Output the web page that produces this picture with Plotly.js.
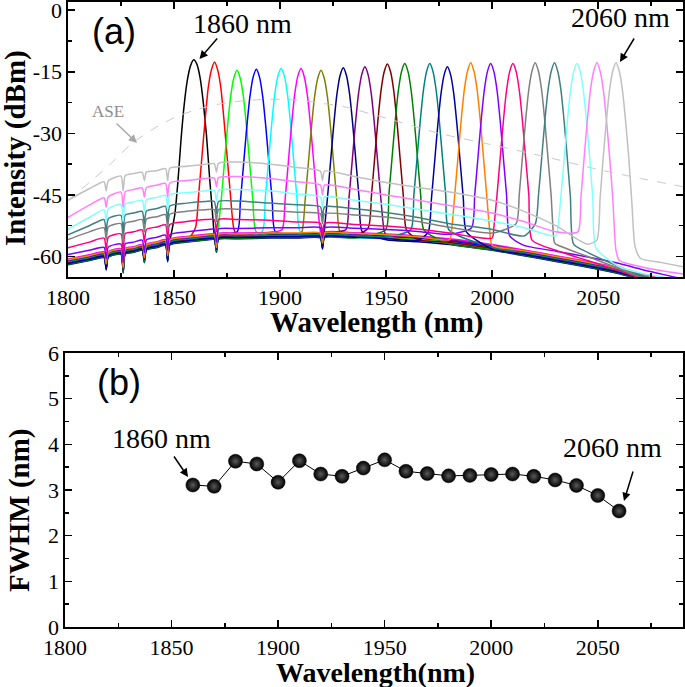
<!DOCTYPE html>
<html>
<head>
<meta charset="utf-8">
<script src="https://cdn.plot.ly/plotly-3.0.1.min.js"></script>
<style>html,body{margin:0;padding:0;background:#fff}#chart{width:685px;height:687px}</style>
</head>
<body>
<div id="chart"></div>
<script>
// ---------- Panel (a) data ----------
const lineNames = ['1860','1870','1880','1890','1900','1910','1920','1930','1940','1950','1960','1970','1980','1990','2000','2010','2020','2030','2040','2050','2060'];
const lineCenters = [1859.3,1869.1,1879.7,1888.8,1900.5,1909.9,1919.3,1929.8,1940.0,1950.6,1958.8,1970.6,1978.9,1989.9,1999.3,2009.8,2020.3,2029.4,2040.0,2049.4,2058.4];
const lineColors = ['#000000','#ff0000','#00ff00','#0000ff','#00ffff','#ff00ff','#808000','#000080','#800080','#800000','#008000','#008080','#0000a0','#ff8000','#8000ff','#ff0080','#808080','#408080','#80ffff','#ff80ff','#c0c0c0'];

// noise-floor wavelengths (nm) shared by the floor arrays (incl. absorption dips)
const floorWl = [1800,1810,1817,1818,1819,1825,1826,1827,1831,1835,1836,1837,1842,1846,1847,1848,1856,1865,1869,1870,1871,1880,1895,1908,1919,1920,1921,1935,1950,1965,1980,2000,2015,2030,2045,2060,2070,2080,2090];

const floor1860 = [-61.2,-60.2,-59.5,-62.5,-59.4,-58.7,-63.0,-58.6,-58.2,-57.7,-60.5,-57.6,-57.0,-56.5,-60.5,-56.4,-55.7,-55.2,-55.1,-58.5,-55.0,-54.9,-54.7,-54.7,-54.7,-57.0,-54.7,-54.8,-55.1,-55.6,-56.3,-57.7,-59.0,-60.4,-61.8,-63.4,-64.8,-66.0,-67.2];
const floor1870 = [-61.7,-60.7,-60.0,-62.8,-59.9,-59.2,-63.7,-59.1,-58.7,-58.2,-61.2,-58.1,-57.5,-57.0,-60.8,-56.9,-56.2,-55.7,-55.6,-58.7,-55.5,-55.4,-55.2,-55.2,-55.2,-57.7,-55.2,-55.3,-55.6,-56.1,-56.8,-58.2,-59.5,-60.9,-62.3,-63.9,-65.3,-66.5,-67.7];
const floor1880 = [-61.4,-60.4,-59.7,-62.4,-59.6,-58.9,-63.4,-58.8,-58.4,-57.9,-60.9,-57.8,-57.2,-56.7,-60.4,-56.6,-55.9,-55.4,-55.3,-58.4,-55.2,-55.1,-54.9,-54.9,-54.9,-57.4,-54.9,-55.0,-55.3,-55.8,-56.5,-57.9,-59.2,-60.6,-62.0,-63.6,-65.0,-66.2,-67.4];
const floor1890 = [-61.1,-60.1,-59.4,-62.1,-59.3,-58.6,-63.1,-58.5,-58.1,-57.6,-60.6,-57.5,-56.9,-56.4,-60.1,-56.3,-55.6,-55.1,-55.0,-58.1,-54.9,-54.8,-54.6,-54.6,-54.6,-57.1,-54.6,-54.7,-55.0,-55.5,-56.2,-57.6,-58.9,-60.3,-61.7,-63.3,-64.7,-65.9,-67.1];
const floor1900 = [-61.8,-60.8,-60.1,-62.8,-60.0,-59.3,-63.8,-59.2,-58.8,-58.3,-61.3,-58.2,-57.6,-57.1,-60.8,-57.0,-56.3,-55.8,-55.7,-58.8,-55.6,-55.5,-55.3,-55.3,-55.3,-57.8,-55.3,-55.4,-55.7,-56.2,-56.9,-58.3,-59.6,-61.0,-62.4,-64.0,-65.4,-66.6,-67.8];
const floor1910 = [-60.6,-59.6,-58.9,-61.6,-58.8,-58.1,-62.6,-58.0,-57.6,-57.1,-60.1,-57.0,-56.4,-55.9,-59.6,-55.8,-55.1,-54.6,-54.5,-57.6,-54.4,-54.3,-54.1,-54.1,-54.1,-56.6,-54.1,-54.2,-54.5,-55.0,-55.7,-57.1,-58.4,-59.8,-61.2,-62.8,-64.2,-65.4,-66.6];
const floor1920 = [-61.6,-60.6,-59.9,-62.6,-59.8,-59.1,-63.6,-59.0,-58.6,-58.1,-61.1,-58.0,-57.4,-56.9,-60.6,-56.8,-56.1,-55.6,-55.5,-58.6,-55.4,-55.3,-55.1,-55.1,-55.1,-57.6,-55.1,-55.2,-55.5,-56.0,-56.7,-58.1,-59.4,-60.8,-62.2,-63.8,-65.2,-66.4,-67.6];
const floor1930 = [-62.0,-61.0,-60.3,-63.0,-60.2,-59.5,-64.0,-59.4,-59.0,-58.5,-61.5,-58.4,-57.8,-57.3,-61.0,-57.2,-56.5,-56.0,-55.9,-59.0,-55.8,-55.7,-55.5,-55.5,-55.5,-58.0,-55.5,-55.6,-55.9,-56.4,-57.1,-58.5,-59.8,-61.2,-62.6,-64.2,-65.6,-66.8,-68.0];
const floor1940 = [-60.9,-59.9,-59.2,-61.9,-59.1,-58.4,-62.9,-58.3,-57.9,-57.4,-60.4,-57.3,-56.7,-56.2,-59.9,-56.1,-55.4,-54.9,-54.8,-57.9,-54.7,-54.6,-54.4,-54.4,-54.4,-56.9,-54.4,-54.5,-54.8,-55.3,-56.0,-57.4,-58.7,-60.1,-61.5,-63.1,-64.5,-65.7,-66.9];
const floor1950 = [-61.5,-60.5,-59.8,-62.5,-59.7,-59.0,-63.5,-58.9,-58.5,-58.0,-61.0,-57.9,-57.3,-56.8,-60.5,-56.7,-56.0,-55.5,-55.4,-58.5,-55.3,-55.2,-55.0,-55.0,-55.0,-57.5,-55.0,-55.1,-55.4,-55.9,-56.6,-58.0,-59.3,-60.7,-62.1,-63.7,-65.1,-66.3,-67.5];
const floor1960 = [-61.9,-60.9,-60.2,-62.9,-60.1,-59.4,-63.9,-59.3,-58.9,-58.4,-61.4,-58.3,-57.7,-57.2,-60.9,-57.1,-56.4,-55.9,-55.8,-58.9,-55.7,-55.6,-55.4,-55.4,-55.4,-57.9,-55.4,-55.5,-55.8,-56.3,-57.0,-58.4,-59.7,-61.1,-62.5,-64.1,-65.5,-66.7,-67.9];
const floor1970 = [-61.3,-60.3,-59.6,-62.3,-59.5,-58.8,-63.3,-58.7,-58.3,-57.8,-60.8,-57.7,-57.1,-56.6,-60.3,-56.5,-55.8,-55.3,-55.2,-58.3,-55.1,-55.0,-54.8,-54.8,-54.8,-57.3,-54.8,-54.9,-55.2,-55.7,-56.4,-57.8,-59.1,-60.5,-61.9,-63.5,-64.9,-66.1,-67.3];
const floor1980 = [-61.7,-60.7,-60.0,-63.3,-59.9,-59.2,-63.2,-59.1,-58.7,-58.2,-60.7,-58.1,-57.5,-57.0,-61.3,-56.9,-56.2,-55.7,-55.6,-58.2,-55.5,-55.4,-55.2,-55.2,-55.2,-58.2,-55.2,-55.3,-55.6,-56.1,-56.8,-58.2,-59.5,-60.9,-62.3,-63.9,-65.3,-66.5,-67.7];
const floor1990 = [-60.8,-59.8,-59.1,-61.8,-59.0,-58.3,-62.8,-58.2,-57.8,-57.3,-60.3,-57.2,-56.6,-56.1,-59.8,-56.0,-55.3,-54.8,-54.7,-57.8,-54.6,-54.5,-54.3,-54.3,-54.3,-56.8,-54.3,-54.4,-54.7,-55.2,-55.9,-57.3,-58.6,-60.0,-61.4,-63.0,-64.4,-65.6,-66.8];
const floor2000 = [-59.5,-58.5,-57.8,-60.5,-57.7,-57.0,-61.5,-56.9,-56.5,-56.0,-59.0,-55.9,-55.3,-54.8,-58.5,-54.7,-54.0,-53.5,-53.4,-56.5,-53.3,-53.2,-53.0,-53.0,-53.0,-55.5,-53.0,-53.1,-53.4,-53.9,-54.6,-56.0,-57.3,-58.7,-60.1,-61.7,-63.1,-64.3,-65.5];
const floor2010 = [-57.9,-56.5,-55.5,-58.5,-55.3,-54.5,-59.0,-54.4,-54.0,-53.5,-56.5,-53.4,-52.8,-52.3,-56.0,-52.2,-51.5,-51.0,-51.0,-54.0,-51.0,-51.0,-51.2,-51.6,-51.9,-54.5,-51.9,-52.2,-52.6,-53.3,-54.3,-55.5,-57.0,-58.5,-61.0,-63.5,-65.3,-66.8,-68.0];
const floor2020 = [-55.9,-54.0,-53.0,-56.0,-52.8,-52.0,-56.5,-51.9,-51.4,-51.0,-54.0,-50.9,-50.3,-49.8,-53.5,-49.7,-49.0,-48.6,-48.6,-51.5,-48.6,-48.5,-48.8,-49.2,-49.6,-52.0,-49.6,-49.9,-50.4,-51.5,-52.9,-54.3,-55.5,-57.0,-60.0,-63.0,-65.0,-66.5,-67.5];
const floor2030 = [-54.7,-52.5,-51.0,-54.0,-50.8,-50.0,-54.5,-49.9,-49.4,-49.0,-52.0,-48.9,-48.3,-47.8,-51.5,-47.7,-47.0,-46.6,-46.6,-49.5,-46.6,-46.5,-47.0,-47.4,-47.9,-50.5,-47.9,-48.4,-49.3,-50.5,-52.0,-53.4,-55.0,-56.5,-59.0,-62.5,-64.5,-66.0,-67.0];
const floor2040 = [-53.3,-50.5,-48.6,-51.5,-48.4,-47.3,-51.5,-47.2,-46.7,-46.3,-49.0,-46.2,-45.6,-45.1,-48.5,-45.0,-44.5,-44.0,-43.9,-46.5,-43.8,-43.7,-44.0,-44.8,-45.5,-48.0,-45.5,-46.3,-47.3,-48.5,-49.7,-51.4,-53.0,-55.0,-57.5,-62.5,-64.0,-65.0,-66.0];
const floor2050 = [-50.5,-47.5,-45.7,-48.0,-45.5,-44.3,-48.0,-44.2,-43.7,-43.3,-45.5,-43.2,-42.6,-42.2,-45.5,-42.1,-41.5,-41.0,-40.9,-43.0,-40.8,-40.5,-41.0,-41.8,-42.6,-45.0,-42.6,-43.6,-45.0,-46.3,-47.6,-49.4,-51.5,-54.0,-56.5,-61.0,-62.5,-63.5,-64.3];
const floor2060 = [-46.3,-43.5,-41.8,-44.0,-41.6,-40.4,-44.0,-40.3,-39.8,-39.5,-41.5,-39.4,-39.1,-38.6,-41.5,-38.5,-38.0,-37.5,-37.4,-39.5,-37.3,-37.0,-37.5,-38.3,-39.2,-41.5,-39.2,-40.5,-42.0,-43.2,-44.3,-46.3,-49.0,-52.5,-57.0,-60.0,-60.5,-61.5,-62.5];

// laser-line samples, offsets (nm) from each line centre
const peakOffsets = [-9,-7.5,-6,-4.5,-3,-1.5,0,1.5,3,4.5,6,7.5,9];
const peak1860 = [-50.0,-42.0,-31.5,-23.0,-17.0,-13.5,-12.1,-13.2,-16.5,-22.5,-30.5,-41.0,-50.5];
const peak1870 = [-53.0,-45.0,-36.0,-27.0,-19.0,-14.6,-12.6,-14.6,-19.0,-27.0,-36.0,-45.0,-53.0];
const peak1880 = [-54.0,-46.5,-37.5,-28.5,-21.0,-16.5,-14.6,-16.5,-21.0,-28.5,-37.5,-46.5,-54.0];
const peak1890 = [-54.0,-46.5,-37.5,-28.5,-21.0,-16.3,-14.4,-16.3,-21.0,-28.5,-37.5,-46.5,-54.0];
const peak1900 = [-54.0,-46.0,-37.0,-28.0,-20.5,-16.0,-14.2,-16.0,-20.5,-28.0,-37.0,-46.0,-54.0];
const peak1910 = [-53.5,-46.0,-37.0,-28.0,-20.5,-16.0,-14.2,-16.2,-20.8,-28.3,-37.3,-46.0,-53.5];
const peak1920 = [-54.0,-46.5,-37.5,-28.5,-21.0,-16.5,-14.6,-16.5,-21.0,-28.5,-37.5,-46.5,-54.0];
const peak1930 = [-54.0,-46.0,-37.0,-28.0,-20.5,-15.9,-14.0,-15.9,-20.5,-28.0,-37.0,-46.0,-54.0];
const peak1940 = [-53.5,-45.8,-36.8,-27.8,-20.3,-15.7,-13.8,-15.7,-20.3,-27.8,-36.8,-45.8,-53.5];
const peak1950 = [-53.0,-45.1,-36.1,-27.1,-19.6,-15.0,-13.1,-15.0,-19.6,-27.1,-36.1,-45.1,-53.5];
const peak1960 = [-53.5,-45.0,-36.0,-27.0,-19.5,-14.9,-13.0,-14.9,-19.5,-27.0,-36.0,-45.0,-53.5];
const peak1970 = [-53.5,-45.0,-36.0,-27.0,-19.5,-14.9,-13.0,-14.9,-19.5,-27.0,-36.0,-45.0,-53.5];
const peak1980 = [-54.0,-45.8,-36.8,-27.8,-20.3,-15.7,-13.8,-15.7,-20.3,-27.8,-36.8,-45.8,-54.0];
const peak1990 = [-53.5,-44.8,-35.8,-26.8,-19.3,-14.8,-12.8,-14.8,-19.3,-26.8,-35.8,-44.8,-54.0];
const peak2000 = [-53.0,-45.0,-36.0,-27.0,-19.5,-14.9,-13.0,-14.9,-19.5,-27.0,-36.0,-45.0,-55.0];
const peak2010 = [-53.0,-45.0,-36.0,-27.0,-19.5,-14.9,-13.0,-14.9,-19.5,-27.0,-36.0,-45.0,-56.0];
const peak2020 = [-52.0,-44.8,-35.8,-26.8,-19.3,-14.8,-12.8,-14.8,-19.3,-26.8,-35.8,-45.0,-56.5];
const peak2030 = [-52.0,-44.8,-35.8,-26.8,-19.3,-14.8,-12.8,-14.8,-19.3,-26.8,-35.8,-45.5,-57.0];
const peak2040 = [-53.0,-45.0,-36.0,-27.0,-19.5,-14.9,-13.0,-14.9,-19.5,-27.0,-36.0,-46.0,-58.0];
const peak2050 = [-54.0,-45.5,-35.8,-26.8,-19.3,-14.8,-12.8,-14.8,-19.3,-26.8,-35.8,-46.0,-58.5];
const peak2060 = [-56.0,-46.0,-35.8,-26.8,-19.3,-14.8,-12.8,-14.8,-19.3,-26.8,-35.8,-47.0,-57.6];

// ASE spectrum
const aseWl  = [1800,1810,1820,1830,1840,1850,1860,1870,1880,1890,1900,1910,1920,1930,1950,1975,2000,2025,2050,2070,2090];
const aseDbm = [-46.3,-42.0,-37.5,-32.5,-29.0,-26.2,-24.3,-23.0,-22.2,-21.8,-21.7,-22.0,-22.7,-23.5,-26.3,-30.0,-32.8,-35.7,-38.8,-41.0,-43.0];

// ---------- Panel (b) data ----------
const fwhmWl = [1860,1870,1880,1890,1900,1910,1920,1930,1940,1950,1960,1970,1980,1990,2000,2010,2020,2030,2040,2050,2060];
const fwhmNm = [3.11,3.08,3.63,3.57,3.17,3.64,3.35,3.30,3.48,3.66,3.41,3.36,3.31,3.32,3.34,3.35,3.30,3.22,3.10,2.88,2.54];

const yTickVals = [0,-15,-30,-45,-60];
const yTickText = ['0','-15','-30','-45','-60'];

const floors = [floor1860,floor1870,floor1880,floor1890,floor1900,floor1910,floor1920,floor1930,floor1940,floor1950,floor1960,floor1970,floor1980,floor1990,floor2000,floor2010,floor2020,floor2030,floor2040,floor2050,floor2060];
const peaks = [peak1860,peak1870,peak1880,peak1890,peak1900,peak1910,peak1920,peak1930,peak1940,peak1950,peak1960,peak1970,peak1980,peak1990,peak2000,peak2010,peak2020,peak2030,peak2040,peak2050,peak2060];

// splice the read floor samples and the read line samples into one spectrum per line
function spectrum(i) {
  const c = lineCenters[i];
  const pts = [];
  floorWl.forEach((w, j) => { if (Math.abs(w - c) > 9.5) pts.push([w, floors[i][j]]); });
  peakOffsets.forEach((o, j) => pts.push([c + o, peaks[i][j]]));
  pts.sort((a, b) => a[0] - b[0]);
  return {x: pts.map(p => p[0]), y: pts.map(p => p[1])};
}

const traces = [];
lineNames.forEach((n, i) => {
  const s = spectrum(i);
  traces.push({type:'scatter', mode:'lines', x:s.x, y:s.y, xaxis:'x', yaxis:'y', name:n+' nm',
    line:{color:lineColors[i], width:1.5, shape:'spline', smoothing:0.6}, hoverinfo:'skip'});
});
traces.push({type:'scatter', mode:'lines', x:aseWl, y:aseDbm, xaxis:'x', yaxis:'y', name:'ASE',
  line:{color:'#c8c8c8', width:1, dash:'dash', shape:'spline', smoothing:0.6}});
traces.push({type:'scatter', mode:'lines+markers', x:fwhmWl, y:fwhmNm, xaxis:'x2', yaxis:'y2', name:'FWHM',
  line:{color:'#000', width:1},
  marker:{size:14, color:'#000', gradient:{type:'radial', color:'#5a5a5a'}, line:{color:'#000', width:0.5}}});

const serif = 'Liberation Serif';
const sans = 'Liberation Sans';
const tickFont = {family:serif, size:22, color:'#000'};
function axisBase(extra) {
  return Object.assign({
    showline:true, linecolor:'#000', linewidth:1.6, mirror:'allticks',
    ticks:'inside', ticklen:7, tickwidth:1.5, tickcolor:'#000', ticklabeloverflow:'allow',
    showgrid:false, zeroline:false, tickfont:tickFont, fixedrange:true
  }, extra);
}

const W = 685, H = 687;
const px = v => v / W, py = v => 1 - v / H;

function txt(t, x, y, size, fam, color, angle) {
  return {text:t, xref:'paper', yref:'paper', x:px(x), y:py(y), showarrow:false,
    xanchor:'center', yanchor:'middle', textangle:angle||0,
    font:{family:fam, size:size, color:color||'#000'}};
}
function arrow(hx, hy, ax, ay, color) {
  return {text:'', xref:'paper', yref:'paper', x:px(hx), y:py(hy), ax:ax, ay:ay,
    showarrow:true, arrowhead:2, arrowsize:1.1, arrowwidth:1.5, arrowcolor:color||'#000'};
}

const layout = {
  width:W, height:H, margin:{l:0, r:0, t:0, b:0},
  font:{family:serif, color:'#000'},
  paper_bgcolor:'#fff', plot_bgcolor:'#fff', showlegend:false,
  xaxis: axisBase({domain:[px(68), px(683)], range:[1800,2090], dtick:50, tick0:1800, anchor:'y',
    minor:{ticks:'inside', ticklen:4, tickwidth:1.5, tickcolor:'#000', dtick:25}}),
  yaxis: axisBase({domain:[py(277), py(2)], range:[-65,2], tickvals:yTickVals, ticktext:yTickText, anchor:'x',
    minor:{ticks:'inside', ticklen:4, tickwidth:1.5, tickcolor:'#000', tickvals:[-7.5,-22.5,-37.5,-52.5]}}),
  xaxis2: axisBase({domain:[px(65), px(683)], range:[1800,2090], dtick:50, tick0:1800, anchor:'y2',
    minor:{ticks:'inside', ticklen:4, tickwidth:1.5, tickcolor:'#000', dtick:25}}),
  yaxis2: axisBase({domain:[py(627), py(353)], range:[0,6], dtick:1, anchor:'x2',
    minor:{ticks:'inside', ticklen:4, tickwidth:1.5, tickcolor:'#000', dtick:0.5}}),
  annotations: [
    txt('(a)', 114, 32, 36, sans),
    txt('1860 nm', 242, 23, 28, serif),
    txt('2060 nm', 620, 18, 28, serif),
    txt('ASE', 108, 111, 17, serif, '#8c8c8c'),
    txt('(b)', 119, 382, 36, sans),
    txt('1860 nm', 161, 438, 28, serif),
    txt('2060 nm', 612, 447, 28, serif),
    txt('<b>Wavelength (nm)</b>', 376, 323, 29, serif),
    txt('<b>Intensity (dBm)</b>', 15, 148, 29, serif, '#000', -90),
    txt('<b>Wavelength(nm)</b>', 375, 672, 28, serif),
    txt('<b>FWHM (nm)</b>', 20, 510, 29, serif, '#000', -90),
    arrow(199.5, 59, 19, -22),
    arrow(620, 62, 15, -25),
    arrow(137, 143, -22, -21, '#a8a8a8'),
    arrow(188, 477, -15, -22),
    arrow(624, 501, 9.5, -31)
  ]
};

Plotly.newPlot('chart', traces, layout, {staticPlot:true, displayModeBar:false});
</script>
</body>
</html>
